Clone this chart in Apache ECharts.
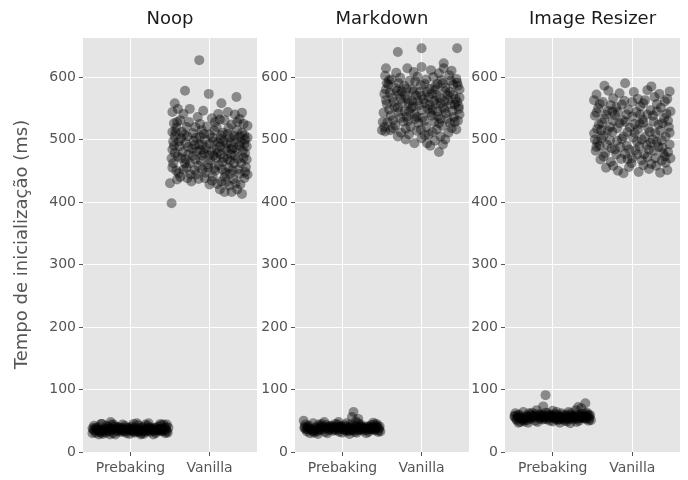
<!DOCTYPE html>
<html lang="pt">
<head>
    <meta charset="UTF-8"/>
    <script src="https://cdn.jsdelivr.net/npm/echarts@6/dist/echarts.min.js"></script>
    <title>Tempo de inicialização</title>
    <style>
        html, body { margin: 0; padding: 0; background: #fff; }
        #main { width: 688px; height: 480px; }
    </style>
</head>
<body>
<div id="main"></div>
<script type="text/javascript">
    // groups and panels
    var categories = ['Prebaking', 'Vanilla'];
    var panelTitles = ['Noop', 'Markdown', 'Image Resizer'];
    var yLabel = 'Tempo de inicialização (ms)';
    var yMax = 664;
    var yStep = 100;

    // [jitter, ms] ; jitter is offset from the group position (0 = Prebaking, 1 = Vanilla)
    var noopPrebaking = [
        [-0.47,36],[-0.44,31],[-0.41,40],[-0.38,34],[-0.35,29],[-0.33,38],[-0.3,42],[-0.27,33],[-0.25,37],[-0.22,30],
        [-0.2,41],[-0.17,35],[-0.15,39],[-0.12,32],[-0.1,44],[-0.08,36],[-0.05,30],[-0.03,39],[0.0,34],[0.02,41],
        [0.05,31],[0.07,37],[0.1,43],[0.12,33],[0.15,38],[0.17,29],[0.2,36],[0.22,42],[0.25,32],[0.27,39],
        [0.3,35],[0.32,30],[0.35,41],[0.37,37],[0.4,33],[0.42,44],[0.45,36],[0.47,31],
        [-0.46,42],[-0.4,28],[-0.36,45],[-0.31,31],[-0.24,44],[-0.19,28],[-0.13,36],[-0.07,42],[-0.01,29],[0.04,45],
        [0.09,35],[0.14,30],[0.19,44],[0.24,37],[0.29,28],[0.34,34],[0.39,43],[0.44,30],[0.48,39],
        [-0.43,35],[-0.34,33],[-0.28,40],[-0.18,38],[-0.09,33],[0.01,37],[0.06,33],[0.11,39],[0.18,33],[0.26,35],
        [0.33,38],[0.41,37],[-0.25,48],[0.23,46],[-0.37,45],[0.38,45],[-0.21,44],[0.08,46],[-0.48,30],[0.46,44],
        [0.13,28],[-0.26,28],
        [-0.46,34],[-0.42,37],[-0.39,32],[-0.34,36],[-0.29,34],[-0.26,38],[-0.23,35],[-0.16,33],[-0.14,37],[-0.11,35],
        [-0.06,33],[-0.02,37],[0.03,35],[0.06,39],[0.09,32],[0.13,36],[0.16,34],[0.21,38],[0.23,34],[0.28,36],
        [0.31,33],[0.36,37],[0.38,34],[0.43,38],[0.46,33],[-0.44,39],[-0.37,31],[-0.32,35],[-0.21,37],[-0.16,40],
        [-0.09,38],[-0.04,35],[0.0,38],[0.04,33],[0.11,34],[0.16,40],[0.2,33],[0.27,37],[0.32,39],[0.39,36],
        [0.45,40],[-0.48,38],[-0.3,37],[-0.12,39],[0.06,36],[0.24,39],[0.42,34],[-0.4,35],[-0.05,39],[0.35,35]
    ];
    var noopVanilla = [
        [-0.13,627],[-0.31,578],[-0.01,573],[0.34,568],[0.15,558],[-0.44,558],[-0.25,549],[0.41,543],[0.23,544],[-0.15,536],
        [0.03,534],[0.19,531],[-0.41,528],[0.48,522],[-0.47,544],[-0.48,398],[-0.5,430],[0.28,416],[0.19,416],[0.21,432],
        [0.44,438],[0.06,454],[-0.19,451],[-0.46,462],[-0.31,462],[0.31,462],
        [-0.42,519],[-0.35,512],[-0.28,505],[-0.2,498],[-0.1,515],[0.0,508],[0.09,520],[0.17,511],[0.26,503],[0.35,515],[0.44,507],
        [-0.46,497],[-0.38,489],[-0.3,494],[-0.22,485],[-0.13,492],[-0.04,486],[0.05,497],[0.13,489],[0.22,494],[0.3,487],[0.39,496],[0.47,489],
        [-0.44,478],[-0.36,470],[-0.27,476],[-0.18,468],[-0.09,474],[0.01,467],[0.1,479],[0.18,471],[0.27,476],[0.36,469],[0.45,478],
        [-0.47,455],[-0.39,446],[-0.33,452],[-0.24,444],[-0.14,458],[-0.05,447],[0.04,441],[0.12,459],[0.2,447],[0.29,451],[0.38,445],[0.46,456],
        [-0.41,436],[-0.23,433],[-0.06,438],[0.1,429],[0.25,426],[0.35,420],[0.41,413],[0.13,420],
        [-0.45,526],[-0.37,531],[-0.29,520],[-0.12,525],[-0.03,521],[0.07,528],[0.28,524],[0.38,533],
        [-0.33,541],[-0.08,546],[0.11,541],[0.32,540],[-0.4,549],
        [-0.47,484],[-0.16,481],[0.02,482],[0.22,482],[0.42,482],[-0.25,462],[-0.02,460],[0.16,464],[0.4,462],
        [-0.36,502],[-0.06,500],[0.14,501],[0.33,500],[0.24,518],[-0.18,520],[0.43,525],
        [-0.48,470],[-0.11,466],[0.08,470],[0.26,466],[0.47,468],[-0.28,438],[0.0,428],[0.19,440],[0.33,430],[0.48,444],
        [-0.21,510],[0.06,514],[-0.44,505],[0.38,490],[-0.09,491],[0.27,495],[-0.34,480],[0.09,484],[-0.02,455],[0.24,455],
        [-0.43,512],[-0.32,508],[-0.17,503],[-0.07,509],[0.04,503],[0.15,507],[0.23,509],[0.31,506],[0.41,511],[0.48,503],
        [-0.45,490],[-0.27,488],[-0.11,483],[0.0,493],[0.11,495],[0.2,486],[0.34,484],[0.44,493],
        [-0.4,473],[-0.3,468],[-0.21,474],[-0.07,478],[0.05,474],[0.14,476],[0.23,469],[0.32,474],[0.43,471],
        [-0.42,450],[-0.29,455],[-0.17,444],[-0.09,452],[0.07,450],[0.16,452],[0.26,445],[0.36,452],[0.45,448],
        [-0.37,440],[-0.14,437],[0.03,434],[0.15,433],[0.3,437],[0.39,428],[-0.47,512],[-0.26,528],[0.13,532],[0.35,528],
        [-0.39,497],[-0.19,491],[0.17,497],[0.45,500],[0.28,485],[-0.01,475],[0.38,505],[-0.12,505]
    ];
    var markdownPrebaking = [
        [-0.48,38],[-0.45,33],[-0.42,42],[-0.39,36],[-0.36,31],[-0.33,40],[-0.3,44],[-0.28,35],[-0.25,39],[-0.22,32],
        [-0.2,43],[-0.17,37],[-0.14,41],[-0.12,34],[-0.09,45],[-0.07,38],[-0.04,32],[-0.02,41],[0.01,36],[0.03,43],
        [0.06,33],[0.08,39],[0.11,44],[0.13,35],[0.16,40],[0.18,31],[0.21,38],[0.23,44],[0.26,34],[0.28,41],
        [0.31,37],[0.33,32],[0.36,43],[0.38,39],[0.41,35],[0.43,45],[0.46,38],[0.48,33],
        [-0.47,44],[-0.41,30],[-0.37,46],[-0.32,33],[-0.26,45],[-0.19,30],[-0.13,38],[-0.06,44],[0.0,31],[0.05,46],
        [0.1,37],[0.15,32],[0.2,46],[0.25,39],[0.3,30],[0.35,36],[0.4,44],[0.45,32],[0.47,41],
        [-0.44,37],[-0.35,35],[-0.27,42],[-0.18,40],[-0.1,35],[-0.01,39],[0.07,35],[0.12,41],[0.19,35],[0.27,37],
        [0.34,40],[0.42,39],[-0.49,50],[0.14,64],[0.12,56],[0.2,53],[0.17,49],[-0.23,48],[0.39,47],[-0.05,48],
        [0.09,29],[-0.31,29],
        [-0.46,36],[-0.43,39],[-0.38,34],[-0.34,38],[-0.29,36],[-0.26,40],[-0.22,37],[-0.17,35],[-0.14,39],[-0.1,37],
        [-0.06,35],[-0.02,39],[0.02,37],[0.06,41],[0.09,34],[0.13,38],[0.16,36],[0.21,40],[0.24,36],[0.28,38],
        [0.31,35],[0.35,39],[0.38,36],[0.43,40],[0.46,35],[-0.44,41],[-0.36,33],[-0.31,37],[-0.2,39],[-0.15,42],
        [-0.08,40],[-0.03,37],[0.0,40],[0.04,35],[0.1,36],[0.17,42],[0.21,35],[0.26,39],[0.33,41],[0.4,38],
        [0.44,42],[-0.48,40],[-0.29,39],[-0.11,41],[0.07,38],[0.23,41],[0.41,36],[-0.41,37],[-0.04,41],[0.36,37]
    ];
    var markdownVanilla = [
        [-0.3,640],[0,646],[0.45,646],[-0.18,614],[0,616],[0.28,622],[-0.45,614],[0.28,614],[0.22,480],[-0.09,494],[-0.5,515],[0.07,494],
        [-0.46,602],[-0.38,596],[-0.27,599],[-0.15,594],[-0.05,601],[0.06,596],[0.15,600],[0.25,595],[0.35,603],[0.44,597],
        [-0.42,588],[-0.33,582],[-0.22,586],[-0.12,580],[-0.01,587],[0.1,581],[0.2,589],[0.3,583],[0.4,588],[0.48,580],
        [-0.47,573],[-0.37,567],[-0.28,572],[-0.18,565],[-0.07,570],[0.03,564],[0.13,573],[0.23,566],[0.33,571],[0.43,565],
        [-0.44,557],[-0.34,552],[-0.24,558],[-0.13,550],[-0.03,555],[0.08,549],[0.18,557],[0.27,551],[0.37,556],[0.47,549],
        [-0.48,543],[-0.39,538],[-0.29,544],[-0.19,536],[-0.09,541],[0.01,535],[0.11,543],[0.21,537],[0.31,542],[0.41,536],
        [-0.43,528],[-0.33,523],[-0.23,529],[-0.14,521],[-0.04,527],[0.06,520],[0.16,528],[0.26,522],[0.36,526],[0.46,530],
        [-0.46,513],[-0.36,518],[-0.26,511],[-0.16,508],[-0.06,514],[0.04,507],[0.14,512],[0.24,505],[0.34,511],[0.44,516],
        [-0.2,500],[0.0,502],[0.17,498],[0.3,500],[-0.3,505],[0.11,490],[0.27,492],
        [-0.41,595],[-0.1,608],[0.22,606],[0.38,610],[-0.32,607],[0.12,611],
        [-0.25,577],[0.07,576],[0.36,576],[-0.45,580],[0.46,586],[-0.16,545],[0.14,548],[0.45,560],[-0.35,560],
        [-0.08,533],[0.24,533],[-0.49,528],[0.48,540],[-0.12,562],[0.18,580],[0.29,562],[-0.02,576],
        [-0.44,590],[-0.29,590],[-0.19,581],[-0.08,593],[0.04,589],[0.17,585],[0.27,590],[0.37,594],[0.45,591],
        [-0.4,575],[-0.31,578],[-0.21,571],[-0.1,577],[0.0,570],[0.09,568],[0.19,571],[0.3,577],[0.4,572],[0.48,567],
        [-0.45,563],[-0.26,565],[-0.16,558],[-0.05,562],[0.05,558],[0.16,562],[0.24,558],[0.34,563],[0.42,556],
        [-0.41,548],[-0.3,551],[-0.21,545],[-0.11,553],[0.0,547],[0.1,555],[0.2,545],[0.29,548],[0.39,546],[0.47,553],
        [-0.36,531],[-0.27,535],[-0.17,530],[-0.06,536],[0.04,530],[0.13,538],[0.22,526],[0.33,533],[0.42,528],
        [-0.39,515],[-0.2,517],[-0.01,516],[0.19,516],[0.38,518],[-0.47,520],[0.09,508]
    ];
    var resizerPrebaking = [
        [-0.48,56],[-0.45,51],[-0.42,60],[-0.39,54],[-0.36,49],[-0.33,58],[-0.3,62],[-0.28,53],[-0.25,57],[-0.22,50],
        [-0.2,61],[-0.17,55],[-0.14,59],[-0.12,52],[-0.09,63],[-0.07,56],[-0.04,50],[-0.02,59],[0.01,54],[0.03,61],
        [0.06,51],[0.08,57],[0.11,62],[0.13,53],[0.16,58],[0.18,49],[0.21,56],[0.23,62],[0.26,52],[0.28,59],
        [0.31,55],[0.33,50],[0.36,61],[0.38,57],[0.41,53],[0.43,63],[0.46,56],[0.48,51],
        [-0.47,62],[-0.41,48],[-0.37,64],[-0.32,51],[-0.26,63],[-0.19,48],[-0.13,56],[-0.06,62],[0.0,49],[0.05,64],
        [0.1,55],[0.15,50],[0.2,64],[0.25,57],[0.3,48],[0.35,54],[0.4,62],[0.45,50],[0.47,59],
        [-0.44,55],[-0.35,53],[-0.27,60],[-0.18,58],[-0.1,53],[-0.01,57],[0.07,53],[0.12,59],[0.19,53],[0.27,55],
        [0.34,58],[0.42,57],[-0.09,91],[0.41,78],[0.32,72],[-0.12,73],[0.36,70],[0.29,67],[-0.2,67],[0.0,66],
        [0.09,47],[-0.31,47],[0.22,46],[-0.43,47],
        [-0.46,53],[-0.42,57],[-0.38,52],[-0.34,56],[-0.29,54],[-0.26,58],[-0.23,55],[-0.16,53],[-0.13,57],[-0.11,55],
        [-0.06,53],[-0.02,57],[0.03,55],[0.06,59],[0.09,52],[0.13,56],[0.16,54],[0.21,58],[0.24,54],[0.28,56],
        [0.31,53],[0.36,57],[0.39,54],[0.43,58],[0.46,53],[-0.44,59],[-0.37,51],[-0.32,55],[-0.21,57],[-0.16,60],
        [-0.09,58],[-0.04,55],[0.0,58],[0.04,53],[0.11,54],[0.17,60],[0.2,53],[0.26,57],[0.33,59],[0.39,56],
        [0.45,60],[-0.48,58],[-0.3,57],[-0.12,59],[0.06,56],[0.24,59],[0.42,54],[-0.4,55],[-0.05,59],[0.35,55]
    ];
    var resizerVanilla = [
        [-0.09,590],
        [-0.45,572],[-0.3,578],[-0.16,574],[0.02,576],[0.19,579],[0.34,573],[0.47,577],
        [-0.48,563],[-0.37,560],[-0.24,566],[-0.1,562],[0.07,565],[0.14,558],[0.28,568],[0.41,561],
        [-0.43,550],[-0.31,546],[-0.2,552],[-0.05,548],[0.1,553],[0.23,547],[0.36,551],[0.48,545],
        [-0.47,538],[-0.35,533],[-0.22,539],[-0.12,531],[0.0,537],[0.13,532],[0.26,538],[0.4,534],
        [-0.42,524],[-0.28,520],[-0.16,526],[-0.03,519],[0.09,525],[0.2,518],[0.33,524],[0.46,520],
        [-0.48,510],[-0.36,506],[-0.25,512],[-0.11,505],[0.03,511],[0.16,504],[0.29,510],[0.42,505],
        [-0.44,496],[-0.32,492],[-0.19,498],[-0.07,490],[0.06,497],[0.18,491],[0.31,496],[0.47,492],
        [-0.46,482],[-0.34,478],[-0.22,484],[-0.09,477],[0.04,483],[0.15,476],[0.27,482],[0.39,478],
        [-0.4,468],[-0.27,464],[-0.14,469],[-0.01,462],[0.12,467],[0.24,461],[0.37,466],[0.48,470],
        [-0.33,455],[-0.18,450],[-0.04,456],[0.08,448],[0.21,453],[0.35,447],[0.44,451],
        [-0.47,500],[-0.39,515],[-0.15,488],[0.1,540],[0.45,530],[-0.25,545],[0.26,500],[0.0,470],[-0.45,488],[0.38,487],
        [-0.41,557],[-0.27,555],[-0.13,556],[0.0,560],[0.16,563],[0.31,557],[0.44,565],
        [-0.45,543],[-0.33,540],[-0.18,544],[-0.07,540],[0.05,544],[0.19,540],[0.31,545],[0.43,541],
        [-0.38,527],[-0.24,530],[-0.09,528],[0.03,525],[0.14,527],[0.27,529],[0.38,526],
        [-0.44,517],[-0.31,514],[-0.19,518],[-0.06,512],[0.07,516],[0.22,512],[0.35,514],[0.47,511],
        [-0.39,502],[-0.28,499],[-0.13,501],[0.01,503],[0.12,500],[0.23,495],[0.37,499],
        [-0.41,490],[-0.26,486],[-0.04,484],[0.09,489],[0.21,484],[0.33,488],[0.45,480],
        [-0.36,473],[-0.2,476],[-0.06,469],[0.06,476],[0.19,472],[0.29,470],[0.41,473],
        [-0.24,458],[0.14,459],[0.3,458],[-0.11,446],[0.42,463],[0.24,585],[-0.35,586]
    ];

    var panels = [
        {pre: noopPrebaking, van: noopVanilla},
        {pre: markdownPrebaking, van: markdownVanilla},
        {pre: resizerPrebaking, van: resizerVanilla}
    ];

    // x range of each panel is -0.6 .. 1.6 ; a 12-slot category axis puts slot 3 on 0 and slot 8 on 1
    var slotNames = ['', '', '', categories[0], '', '', '', '', categories[1], '', '', ''];
    function isGroupSlot(i) { return i === 3 || i === 8; }

    var grids = [
        {left: 83, top: 37, width: 174, height: 415},
        {left: 295, top: 37, width: 174, height: 415},
        {left: 505, top: 37, width: 175, height: 415}
    ];

    var textColor = '#555555';
    var font = 'DejaVu Sans';

    var option = {
        backgroundColor: '#ffffff',
        animation: false,
        textStyle: {fontFamily: font},
        grid: [],
        xAxis: [],
        yAxis: [],
        series: [],
        graphic: []
    };

    grids.forEach(function (g, i) {
        option.grid.push({
            left: g.left, top: g.top, width: g.width, height: g.height,
            show: true, backgroundColor: '#E5E5E5', borderWidth: 0
        });
        // visible axis: ticks, labels and vertical grid lines
        option.xAxis.push({
            type: 'category', gridIndex: i, position: 'bottom', data: slotNames, boundaryGap: false,
            axisLine: {show: false, onZero: false},
            axisTick: {show: true, length: 4, interval: isGroupSlot, lineStyle: {color: textColor}},
            axisLabel: {interval: isGroupSlot, color: textColor, fontSize: 14, margin: 9, fontFamily: font},
            splitLine: {show: true, interval: isGroupSlot, lineStyle: {color: '#ffffff', width: 1}}
        });
        // onZero off, otherwise the y ticks sit on x = 0 of the hidden value axis
        option.yAxis.push({
            type: 'value', gridIndex: i, position: 'left', min: 0, max: yMax, interval: yStep,
            name: i === 0 ? yLabel : '',
            nameLocation: 'middle', nameGap: 52, nameRotate: 90,
            nameTextStyle: {color: textColor, fontSize: 18, fontFamily: font},
            axisLine: {show: false, onZero: false},
            axisTick: {show: true, length: 4, lineStyle: {color: textColor}},
            axisLabel: {color: textColor, fontSize: 14, margin: 7, fontFamily: font, showMaxLabel: false},
            splitLine: {show: true, lineStyle: {color: '#ffffff', width: 1}}
        });
        option.graphic.push({
            type: 'text', x: g.left + g.width / 2, y: 19, silent: true,
            style: {
                text: panelTitles[i], fill: '#1a1a1a', font: '18px "DejaVu Sans"',
                align: 'center', verticalAlign: 'middle', textAlign: 'center', textVerticalAlign: 'middle'
            }
        });
    });

    // hidden value axes carrying the jittered points
    grids.forEach(function (g, i) {
        option.xAxis.push({
            type: 'value', gridIndex: i, position: 'top', min: -0.6, max: 1.6, show: false,
            axisLine: {onZero: false},
            axisTick: {show: false}, axisLabel: {show: false}, splitLine: {show: false}
        });
    });

    panels.forEach(function (p, i) {
        [p.pre, p.van].forEach(function (pts, k) {
            option.series.push({
                type: 'scatter',
                xAxisIndex: grids.length + i,
                yAxisIndex: i,
                symbolSize: 10,
                itemStyle: {color: '#000000', opacity: 0.4},
                silent: true,
                data: pts.map(function (d) { return [k + d[0], d[1]]; })
            });
        });
    });

    var myChart = echarts.init(document.getElementById('main'), null, {renderer: 'canvas'});
    myChart.setOption(option);
</script>
</body>
</html>
